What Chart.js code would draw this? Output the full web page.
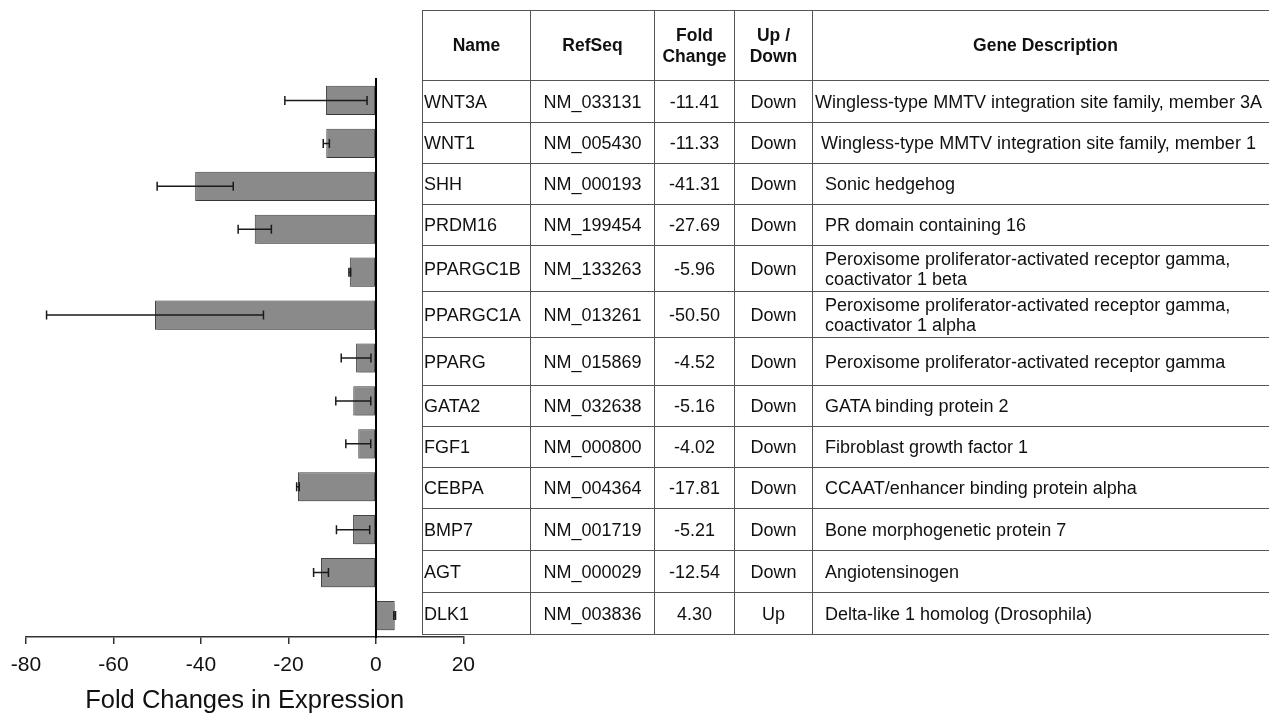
<!DOCTYPE html>
<html>
<head>
<meta charset="utf-8">
<script src="https://cdn.jsdelivr.net/npm/chart.js@4"></script>
<style>
  html, body { margin: 0; padding: 0; background: #fff; overflow: hidden; }
  body { width: 1269px; height: 716px; position: relative; font-family: 'Liberation Sans', Arial, sans-serif; }
  #chartBox { position: absolute; left: 0; top: 0; width: 484px; height: 716px; }
  #geneTable {
    position: absolute; left: 422px; top: 10px; width: 856px;
    border-collapse: collapse; table-layout: fixed;
    font-size: 18px; color: #111;
  }
  #geneTable td, #geneTable th {
    border: 1.5px solid #555; padding: 0; white-space: pre-line; line-height: 20px;
    overflow: hidden;
  }
  #geneTable th { font-weight: bold; font-size: 17.5px; line-height: 21px; text-align: center; }
  #geneTable td.name { text-align: left; padding-left: 1px; }
  #geneTable td.mid { text-align: center; }
  #geneTable td.desc { text-align: left; padding-left: 12px; }
  #geneTable td.desc.centered { text-align: center; padding-left: 0; padding-right: 14px; }
</style>
</head>
<body>
<div id="chartBox"><canvas id="foldChart"></canvas></div>
<table id="geneTable"></table>
<script>
// gene list, top to bottom
const genes = ['WNT3A', 'WNT1', 'SHH', 'PRDM16', 'PPARGC1B', 'PPARGC1A', 'PPARG',
  'GATA2', 'FGF1', 'CEBPA', 'BMP7', 'AGT', 'DLK1'];
const refSeqs = ['NM_033131', 'NM_005430', 'NM_000193', 'NM_199454', 'NM_133263', 'NM_013261',
  'NM_015869', 'NM_032638', 'NM_000800', 'NM_004364', 'NM_001719', 'NM_000029', 'NM_003836'];
const foldChange = [-11.41, -11.33, -41.31, -27.69, -5.96, -50.50, -4.52,
  -5.16, -4.02, -17.81, -5.21, -12.54, 4.30];
// error bar half-widths
const foldError = [9.4, 0.7, 8.7, 3.8, 0.2, 24.8, 3.4, 4.0, 2.85, 0.3, 3.8, 1.7, 0.2];
const descriptions = [
  'Wingless-type MMTV integration site family, member 3A',
  'Wingless-type MMTV integration site family, member 1',
  'Sonic hedgehog',
  'PR domain containing 16',
  'Peroxisome proliferator-activated receptor gamma,\ncoactivator 1 beta',
  'Peroxisome proliferator-activated receptor gamma,\ncoactivator 1 alpha',
  'Peroxisome proliferator-activated receptor gamma',
  'GATA binding protein 2',
  'Fibroblast growth factor 1',
  'CCAAT/enhancer binding protein alpha',
  'Bone morphogenetic protein 7',
  'Angiotensinogen',
  'Delta-like 1 homolog (Drosophila)'
];
const headers = ['Name', 'RefSeq', 'Fold\nChange', 'Up /\nDown', 'Gene Description'];
const xTicks = [-80, -60, -40, -20, 0, 20];

// layout of the table
const colWidths = [108, 124, 80, 78, 466];
const headerHeight = 70;
const rowHeights = [42, 41, 41, 41, 46, 46, 48, 41, 41, 41, 42, 42, 42];

// build the table
const table = document.getElementById('geneTable');
const colgroup = document.createElement('colgroup');
colWidths.forEach(w => {
  const c = document.createElement('col');
  c.style.width = w + 'px';
  colgroup.appendChild(c);
});
table.appendChild(colgroup);
const headRow = document.createElement('tr');
headRow.style.height = headerHeight + 'px';
headers.forEach(h => {
  const th = document.createElement('th');
  th.textContent = h;
  headRow.appendChild(th);
});
table.appendChild(headRow);
genes.forEach((g, i) => {
  const tr = document.createElement('tr');
  tr.style.height = rowHeights[i] + 'px';
  const cells = [
    [g, 'name'],
    [refSeqs[i], 'mid'],
    [foldChange[i].toFixed(2), 'mid'],
    [foldChange[i] > 0 ? 'Up' : 'Down', 'mid'],
    [descriptions[i], i < 2 ? 'desc centered' : 'desc']
  ];
  cells.forEach(([txt, cls]) => {
    const td = document.createElement('td');
    td.textContent = txt;
    td.className = cls;
    tr.appendChild(td);
  });
  table.appendChild(tr);
});

// error bars drawn through the chart's scales
const errorBars = {
  id: 'errorBars',
  afterDatasetsDraw(chart) {
    const ctx = chart.ctx;
    const xs = chart.scales.x;
    const meta = chart.getDatasetMeta(0);
    ctx.save();
    ctx.strokeStyle = '#1a1a1a';
    ctx.lineWidth = 1.5;
    meta.data.forEach((bar, i) => {
      const lo = xs.getPixelForValue(foldChange[i] - foldError[i]);
      const hi = xs.getPixelForValue(foldChange[i] + foldError[i]);
      const y = bar.y;
      ctx.beginPath();
      ctx.moveTo(lo, y); ctx.lineTo(hi, y);
      ctx.moveTo(lo, y - 4.5); ctx.lineTo(lo, y + 4.5);
      ctx.moveTo(hi, y - 4.5); ctx.lineTo(hi, y + 4.5);
      ctx.stroke();
    });
    ctx.restore();
  }
};

// soft shadow under the bars
const barShadow = {
  id: 'barShadow',
  beforeDatasetDraw(chart) {
    const ctx = chart.ctx;
    ctx.save();
    ctx.shadowColor = 'rgba(0,0,0,0.3)';
    ctx.shadowBlur = 3;
    ctx.shadowOffsetX = 1;
    ctx.shadowOffsetY = 2;
  },
  afterDatasetDraw(chart) {
    chart.ctx.restore();
  }
};

new Chart(document.getElementById('foldChart'), {
  type: 'bar',
  data: {
    labels: genes,
    datasets: [{
      data: foldChange,
      backgroundColor: '#8a8a8a',
      borderColor: '#444',
      borderWidth: 1,
      borderSkipped: false,
      categoryPercentage: 1,
      barPercentage: 0.68
    }]
  },
  options: {
    indexAxis: 'y',
    responsive: true,
    maintainAspectRatio: false,
    animation: false,
    layout: { padding: { left: 26, right: 17, top: 79, bottom: 0 } },
    plugins: { legend: { display: false }, tooltip: { enabled: false } },
    scales: {
      x: {
        min: -80, max: 20,
        afterBuildTicks: axis => { axis.ticks = xTicks.map(v => ({ value: v })); },
        afterFit: axis => { axis.height = 79; },
        grid: { drawOnChartArea: false, drawTicks: true, tickLength: 7, color: '#333', lineWidth: 1.5 },
        border: { color: '#333', width: 1.5 },
        ticks: { color: '#111', font: { family: "'Liberation Sans', Arial", size: 21 }, padding: 9, maxRotation: 0 },
        title: {
          display: true, text: 'Fold Changes in Expression', color: '#111',
          font: { family: "'Liberation Sans', Arial", size: 25.5 }, padding: { top: 7, bottom: 0 }
        }
      },
      y: {
        position: { x: 0 },
        grid: { display: false },
        border: { color: '#000', width: 2 },
        ticks: { display: false }
      }
    }
  },
  plugins: [barShadow, errorBars]
});
</script>
</body>
</html>
